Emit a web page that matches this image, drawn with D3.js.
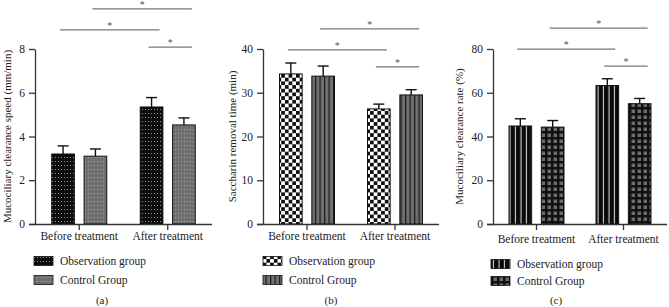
<!DOCTYPE html>
<html>
<head>
<meta charset="utf-8">
<script src="https://cdn.jsdelivr.net/npm/d3@7"></script>
<style>
  html, body { margin: 0; padding: 0; background: #fff; }
  svg { display: block; font-family: "Liberation Serif", "DejaVu Serif", serif; }
</style>
</head>
<body>
<svg id="chart" width="669" height="307"></svg>
<script>
(function () {
  'use strict';

  // ---- data ----
  var groups = ['Before treatment', 'After treatment'];
  var seriesNames = ['Observation group', 'Control Group'];

  // (a) mucociliary clearance speed, mm/min
  var speedObs = [3.2, 5.35];
  var speedObsErr = [0.37, 0.43];
  var speedCtrl = [3.1, 4.53];
  var speedCtrlErr = [0.33, 0.32];
  var speedTicks = [0, 2, 4, 6, 8];

  // (b) saccharin removal time, min
  var timeObs = [34.3, 26.3];
  var timeObsErr = [2.5, 1.1];
  var timeCtrl = [33.8, 29.5];
  var timeCtrlErr = [2.3, 1.2];
  var timeTicks = [0, 10, 20, 30, 40];

  // (c) mucociliary clearance rate, %
  var rateObs = [44.8, 63.3];
  var rateObsErr = [3.3, 3.1];
  var rateCtrl = [44.3, 55.0];
  var rateCtrlErr = [3.0, 2.4];
  var rateTicks = [0, 20, 40, 60, 80];

  // significance brackets: [group, series] -> [group, series], height in data units
  var speedSig = [
    { a: [0, 0], b: [1, 0], h: 8.87 },
    { a: [0, 1], b: [1, 1], h: 9.83 },
    { a: [1, 0], b: [1, 1], h: 8.09 }
  ];
  var timeSig = [
    { a: [0, 0], b: [1, 0], h: 39.8 },
    { a: [0, 1], b: [1, 1], h: 44.6 },
    { a: [1, 0], b: [1, 1], h: 35.9 }
  ];
  var rateSig = [
    { a: [0, 0], b: [1, 0], h: 79.9 },
    { a: [0, 1], b: [1, 1], h: 89.5 },
    { a: [1, 0], b: [1, 1], h: 72.2 }
  ];

  var svg = d3.select('#chart');
  var defs = svg.append('defs');

  // ---- fill patterns ----
  function pattern(id, w, h, draw) {
    var p = defs.append('pattern').attr('id', id)
      .attr('patternUnits', 'userSpaceOnUse').attr('width', w).attr('height', h);
    draw(p, w, h);
  }
  pattern('dotsDark', 3, 4, function (p, w, h) {
    p.append('rect').attr('width', w).attr('height', h).attr('fill', '#0c0c0c');
    p.append('rect').attr('x', 1).attr('y', 1).attr('width', 1).attr('height', 1).attr('fill', '#9a9a9a');
  });
  pattern('dotsGray', 3, 4, function (p, w, h) {
    p.append('rect').attr('width', w).attr('height', h).attr('fill', '#6f6f6f');
    p.append('rect').attr('x', 1).attr('y', 1).attr('width', 1).attr('height', 1).attr('fill', '#a8a8a8');
  });
  pattern('checker', 7.4, 7.4, function (p, w, h) {
    p.append('rect').attr('width', w).attr('height', h).attr('fill', '#fff');
    p.append('rect').attr('width', w / 2).attr('height', h / 2).attr('fill', '#111');
    p.append('rect').attr('x', w / 2).attr('y', h / 2).attr('width', w / 2).attr('height', h / 2).attr('fill', '#111');
  });
  pattern('grayStripes', 4.5, 4, function (p, w, h) {
    p.append('rect').attr('width', w).attr('height', h).attr('fill', '#707070');
    p.append('rect').attr('x', 0).attr('width', 1.2).attr('height', h).attr('fill', '#1a1a1a');
  });
  pattern('blackStripes', 5.5, 4, function (p, w, h) {
    p.append('rect').attr('width', w).attr('height', h).attr('fill', '#0a0a0a');
    p.append('rect').attr('x', 3.5).attr('width', 1).attr('height', h).attr('fill', '#e8e8e8');
  });
  pattern('grid', 6, 6, function (p, w, h) {
    p.append('rect').attr('width', w).attr('height', h).attr('fill', '#111');
    p.append('rect').attr('x', 1.5).attr('y', 1.5).attr('width', 3.5).attr('height', 3.5).attr('fill', '#6c6c6c');
  });

  var panels = [
    { ox: 0, axisX: 35, x1: 212, ticks: speedTicks, obs: speedObs, obsErr: speedObsErr,
      ctrl: speedCtrl, ctrlErr: speedCtrlErr, sig: speedSig,
      fills: ['url(#dotsDark)', 'url(#dotsGray)'],
      title: 'Mucociliary clearance speed (mm/min)', titleX: 7,
      legX: 34, legY: [261, 280], catY: 238, label: '(a)', labelX: 102 },
    { ox: 0, axisX: 263, x1: 439, ticks: timeTicks, obs: timeObs, obsErr: timeObsErr,
      ctrl: timeCtrl, ctrlErr: timeCtrlErr, sig: timeSig,
      fills: ['url(#checker)', 'url(#grayStripes)'],
      title: 'Saccharin removal time (min)', titleX: 232,
      legX: 263, legY: [261, 280], catY: 238, label: '(b)', labelX: 331 },
    { ox: 0, axisX: 493, x1: 667, ticks: rateTicks, obs: rateObs, obsErr: rateObsErr,
      ctrl: rateCtrl, ctrlErr: rateCtrlErr, sig: rateSig,
      fills: ['url(#blackStripes)', 'url(#grid)'],
      title: 'Mucociliary clearance rate (%)', titleX: 459,
      legX: 491, legY: [264, 281], catY: 241, label: '(c)', labelX: 556 }
  ];

  var yTop = 49, yBottom = 224;
  var axisColor = '#333';
  var sigColor = '#777';

  panels.forEach(function (cfg) {
    var g = svg.append('g');
    var maxV = cfg.ticks[cfg.ticks.length - 1];
    var y = d3.scaleLinear().domain([0, maxV]).range([yBottom, yTop]);
    var x0 = d3.scaleBand().domain(groups).range([cfg.axisX, cfg.x1]).padding(0);
    var inner = 55;
    var x1 = d3.scaleBand().domain(seriesNames)
      .range([(x0.bandwidth() - inner) / 2, (x0.bandwidth() + inner) / 2]).paddingInner(0.3);

    var rows = [];
    groups.forEach(function (grp, gi) {
      rows.push({ grp: grp, s: 0, v: cfg.obs[gi], e: cfg.obsErr[gi] });
      rows.push({ grp: grp, s: 1, v: cfg.ctrl[gi], e: cfg.ctrlErr[gi] });
    });
    function cx(d) { return x0(d.grp) + x1(seriesNames[d.s]) + x1.bandwidth() / 2; }

    // error bars (upper only)
    var eb = g.append('g');
    eb.selectAll('line.stem').data(rows).enter().append('line')
      .attr('x1', cx).attr('x2', cx)
      .attr('y1', function (d) { return y(d.v); })
      .attr('y2', function (d) { return y(d.v + d.e); })
      .attr('stroke', '#111').attr('stroke-width', 1.4);
    eb.selectAll('line.cap').data(rows).enter().append('line')
      .attr('x1', function (d) { return cx(d) - 5.5; })
      .attr('x2', function (d) { return cx(d) + 5.5; })
      .attr('y1', function (d) { return y(d.v + d.e); })
      .attr('y2', function (d) { return y(d.v + d.e); })
      .attr('stroke', '#111').attr('stroke-width', 1.4);

    // bars
    g.append('g').selectAll('rect').data(rows).enter().append('rect')
      .attr('x', function (d) { return x0(d.grp) + x1(seriesNames[d.s]); })
      .attr('y', function (d) { return y(d.v); })
      .attr('width', x1.bandwidth())
      .attr('height', function (d) { return y(0) - y(d.v); })
      .attr('fill', function (d) { return cfg.fills[d.s]; })
      .attr('stroke', '#111').attr('stroke-width', 1);

    // y axis
    var ya = g.append('g').attr('transform', 'translate(' + cfg.axisX + ',0)')
      .call(d3.axisLeft(y).tickValues(cfg.ticks).tickSize(6).tickSizeOuter(0).tickPadding(4));
    // x axis
    var xa = g.append('g').attr('transform', 'translate(0,' + yBottom + ')')
      .call(d3.axisBottom(x0).tickSize(6).tickSizeOuter(0).tickPadding(cfg.catY - yBottom - 12));
    xa.select('.domain').attr('d', 'M' + (cfg.axisX - 6) + ',0.5H' + cfg.x1);
    [ya, xa].forEach(function (a) {
      a.select('.domain').attr('stroke', axisColor).attr('stroke-width', 1.3);
      a.selectAll('.tick line').attr('stroke', axisColor).attr('stroke-width', 1.3);
      a.selectAll('.tick text').attr('fill', '#222')
        .style('font-family', '"Liberation Serif", serif').style('font-size', '11.5px');
    });

    // y title
    g.append('text')
      .attr('transform', 'translate(' + cfg.titleX + ',' + ((yTop + yBottom) / 2) + ') rotate(-90)')
      .attr('text-anchor', 'middle').attr('dy', '0.35em')
      .style('font-size', '11px').attr('fill', '#222')
      .text(cfg.title);

    // significance brackets
    cfg.sig.forEach(function (s) {
      var xa0 = x0(groups[s.a[0]]) + x1(seriesNames[s.a[1]]) + x1.bandwidth() / 2 - 3;
      var xb0 = x0(groups[s.b[0]]) + x1(seriesNames[s.b[1]]) + x1.bandwidth() / 2 + 8;
      g.append('line').attr('x1', xa0).attr('x2', xb0)
        .attr('y1', y(s.h)).attr('y2', y(s.h))
        .attr('stroke', sigColor).attr('stroke-width', 1.3);
      g.append('text').attr('x', (xa0 + xb0) / 2).attr('y', y(s.h) - 1)
        .attr('text-anchor', 'middle').style('font-size', '10px').attr('fill', '#555')
        .text('*');
    });

    // legend
    seriesNames.forEach(function (name, i) {
      g.append('rect').attr('x', cfg.legX).attr('y', cfg.legY[i] - 4.5)
        .attr('width', 19).attr('height', 9)
        .attr('fill', cfg.fills[i]).attr('stroke', '#111').attr('stroke-width', 0.8);
      g.append('text').attr('x', cfg.legX + 26).attr('y', cfg.legY[i]).attr('dy', '0.35em')
        .style('font-size', '11.5px').attr('fill', '#222').text(name);
    });

    // panel label
    g.append('text').attr('x', cfg.labelX).attr('y', 300).attr('dy', '0.35em')
      .attr('text-anchor', 'middle').style('font-size', '11px').attr('fill', '#222')
      .text(cfg.label);
  });
})();
</script>
</body>
</html>
